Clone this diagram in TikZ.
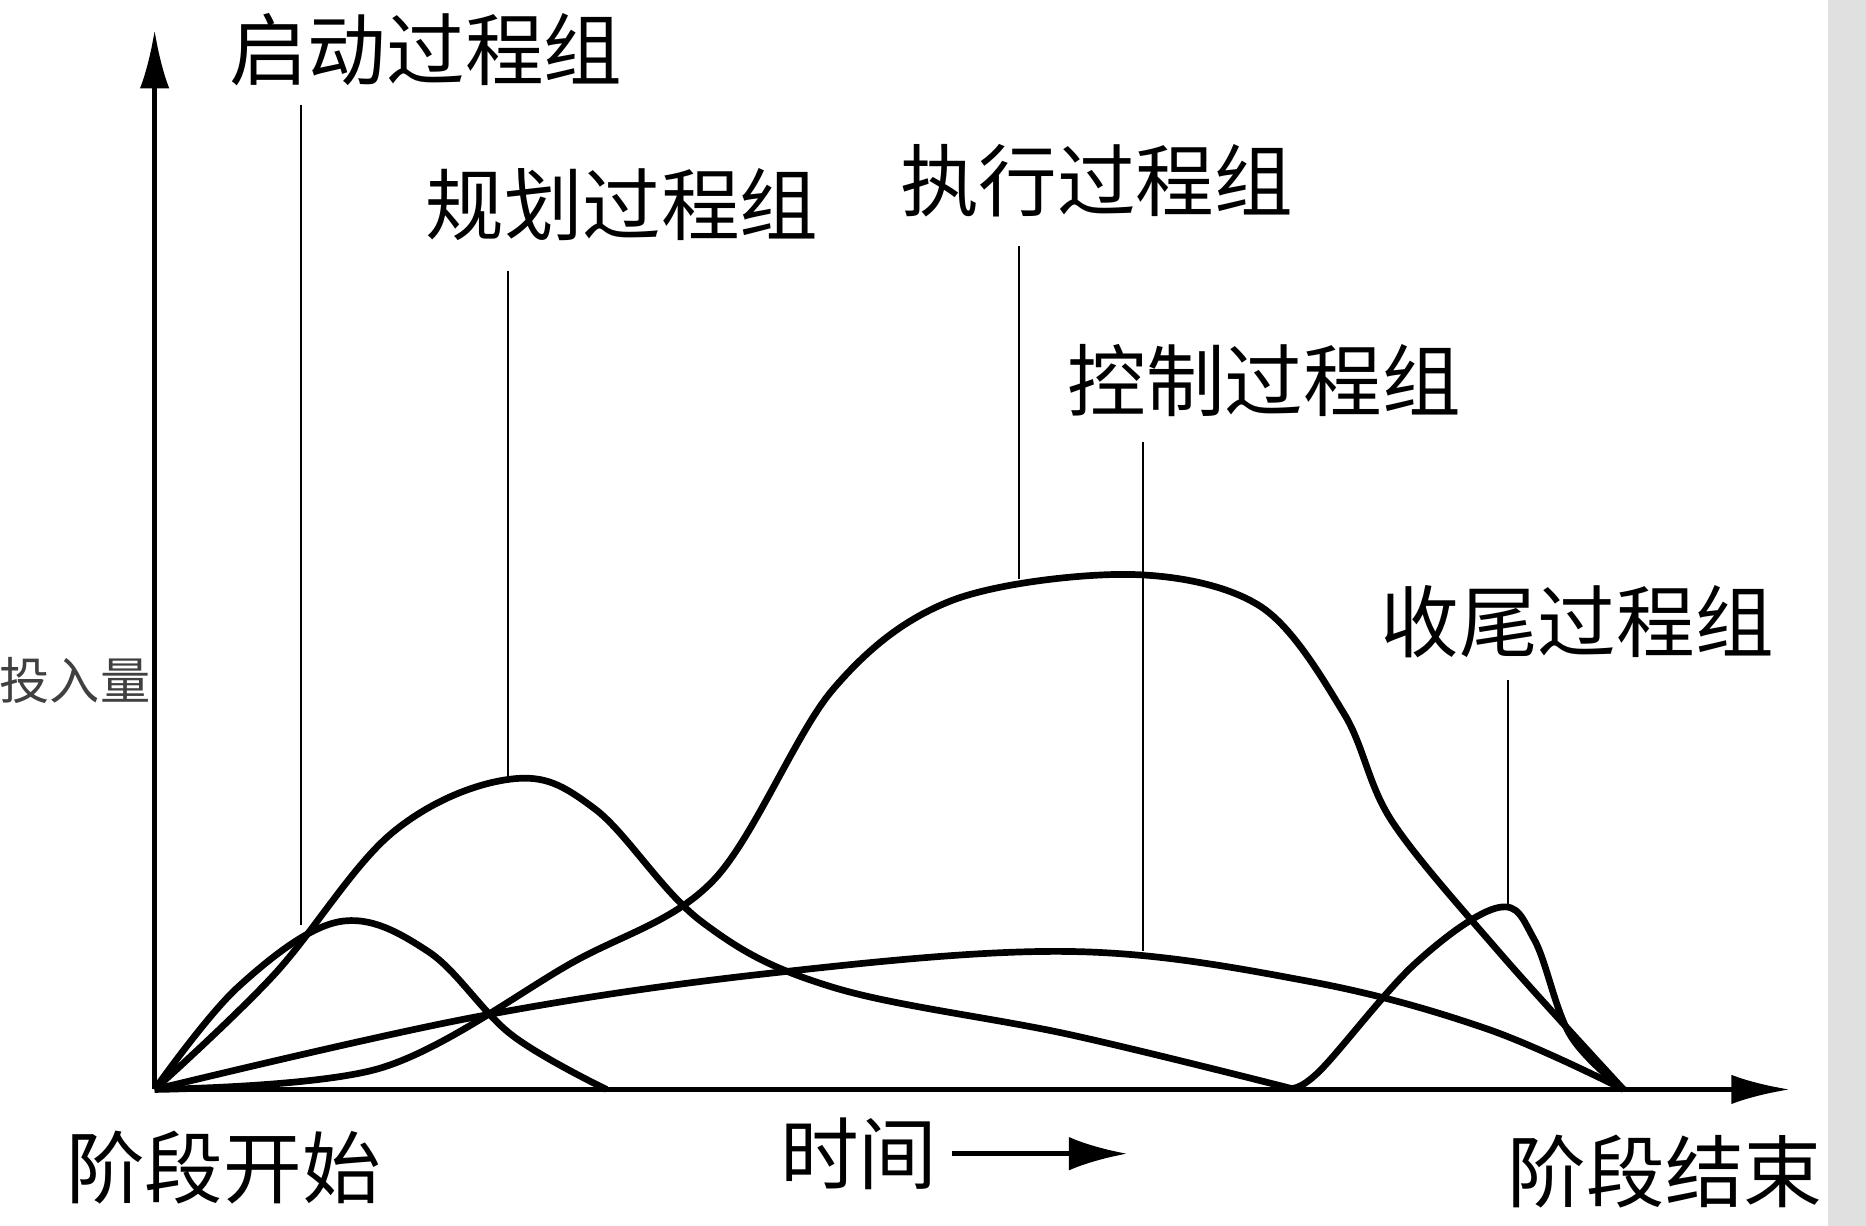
\documentclass[tikz,border=0pt]{standalone}
\usepackage{fontspec}
\setmainfont{Noto Sans CJK SC}
\usetikzlibrary{arrows.meta}
\tikzset{
  curve/.style={line width=1.6pt,line join=round},
  leader/.style={line width=0.5pt},
  axis/.style={line width=1.2pt,-{Latex[length=14pt,width=7pt]}},
  lbl/.style={font=\fontsize{18.8}{18.8}\selectfont,inner sep=0pt},
}
\begin{document}
\begin{tikzpicture}
\useasboundingbox (0,0) rectangle (15.68,10.30);
\fill[black!12] (15.36,0) rectangle (15.68,10.30);
% reference pixels, y downward
\begin{scope}[x=0.01cm,y=-0.01cm,yshift=10.30cm]
\coordinate (o) at (130,916);
\coordinate (ytip) at (130,25);
\coordinate (xtip) at (1505,916);
\draw[axis] (o) -- (ytip);
\draw[axis] (o) -- (xtip);
% labels
\node[lbl] (start) at (358,42) {启动过程组};
\node[lbl] (plan) at (523,172) {规划过程组};
\node[lbl] (exec) at (922,152) {执行过程组};
\node[lbl] (ctrl) at (1063,320) {控制过程组};
\node[lbl] (close) at (1326,523) {收尾过程组};
\node[inner sep=0pt,text=black!75,font=\fontsize{12}{12}\selectfont] (input) at (63,572) {投入量};
\node[lbl] (begin) at (188,982) {阶段开始};
\node[lbl] (time) at (722,970) {时间};
\node[lbl] (end) at (1400,985) {阶段结束};
\coordinate (ta) at (800,970);
\coordinate (tb) at (948,970);
\draw[line width=1.3pt,-{Latex[length=14pt,width=8pt]}] (ta) -- (tb);
% leaders
\coordinate (s1) at (253,88);   \coordinate (s2) at (253,778);
\coordinate (p1) at (427,228);  \coordinate (p2) at (427,655);
\coordinate (e1) at (857,207);  \coordinate (e2) at (857,487);
\coordinate (c1) at (961,372);  \coordinate (c2) at (961,800);
\coordinate (k1) at (1268,572); \coordinate (k2) at (1268,762);
\draw[leader] (s1) -- (s2);
\draw[leader] (p1) -- (p2);
\draw[leader] (e1) -- (e2);
\draw[leader] (c1) -- (c2);
\draw[leader] (k1) -- (k2);
% curves
\draw[curve] plot[smooth,tension=0.6] coordinates {(130,916) (200,830) (285,775) (360,800) (430,870) (510,916)};
\draw[curve] plot[smooth,tension=0.6] coordinates {(130,916) (230,820) (330,700) (430,655) (500,680) (590,775) (700,830) (900,870) (1085,915)};
\draw[curve] plot[smooth,tension=0.6] coordinates {(1085,915) (1110,900) (1190,810) (1260,763) (1290,790) (1320,870) (1365,916)};
\draw[curve] plot[smooth,tension=0.55] coordinates {(130,916) (320,898) (480,810) (600,740) (700,580) (800,505) (950,483) (1060,510) (1130,600) (1170,690) (1260,800) (1365,916)};
\draw[curve] plot[smooth,tension=0.6] coordinates {(130,916) (400,855) (650,818) (900,800) (1100,825) (1250,865) (1365,916)};
\end{scope}
\end{tikzpicture}
\end{document}
